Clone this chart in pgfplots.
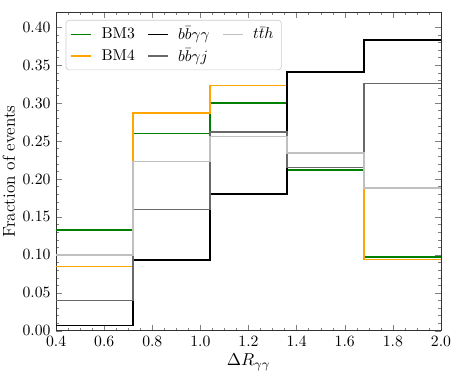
\documentclass[border=0pt]{standalone}
\usepackage{pgfplots}
\pgfplotsset{compat=1.18}
\definecolor{bmgreen}{HTML}{008000}
\definecolor{bmorange}{HTML}{FFA500}
\definecolor{dimgr}{HTML}{696969}
\definecolor{silv}{HTML}{C0C0C0}
\begin{document}
\begin{tikzpicture}
\begin{axis}[
  width=245pt, height=203pt,
  scale only axis,
  xmin=0.4, xmax=2.0,
  ymin=0, ymax=0.42,
  xtick={0.4,0.6,...,2.0},
  ytick={0,0.05,...,0.40},
  minor x tick num=3,
  minor y tick num=4,
  tick align=inside,
  major tick length=4pt, minor tick length=2pt,
  xtick pos=both, ytick pos=both,
  x tick label style={/pgf/number format/.cd,fixed,fixed zerofill,precision=1},
  y tick label style={/pgf/number format/.cd,fixed,fixed zerofill,precision=2},
  xlabel={$\Delta R_{\gamma\gamma}$},
  xlabel style={font=\fontsize{11}{13}\selectfont, yshift=2pt},
  ylabel={Fraction of events},
  ylabel style={font=\fontsize{11}{13}\selectfont, yshift=-2pt},
  axis line style={black!80},
  legend columns=3,
  legend style={at={(0.025,0.975)}, anchor=north west, draw=black!20, rounded corners=2pt,
    column sep=4pt, /tikz/every even column/.append style={column sep=6pt},
    row sep=0pt, font=\normalsize, inner xsep=3pt, inner ysep=2pt},
  legend image code/.code={\draw[#1, sharp plot] (0pt,0pt) -- (12.7pt,0pt);},
  legend cell align=left,
  const plot,
  every axis plot/.append style={line width=0.9pt},
]
\coordinate (bl) at (rel axis cs:0,0);
\coordinate (tr) at (rel axis cs:1,1);
\addlegendimage{bmgreen}
\addlegendentry{BM3}
\addlegendimage{black}
\addlegendentry{$b\bar{b}\gamma\gamma$}
\addlegendimage{silv}
\addlegendentry{$t\bar{t}h$}
\addlegendimage{bmorange}
\addlegendentry{BM4}
\addlegendimage{dimgr}
\addlegendentry{$b\bar{b}\gamma j$}

\addplot[bmgreen, forget plot] coordinates {
  (0.4,0.133) (0.72,0.260) (1.04,0.300) (1.36,0.212) (1.68,0.097) (2.0,0.097)
};
\addplot[bmorange, forget plot] coordinates {
  (0.4,0.085) (0.72,0.287) (1.04,0.323) (1.36,0.215) (1.68,0.094) (2.0,0.094)
};
\addplot[black, forget plot] coordinates {
  (0.4,0.007) (0.72,0.093) (1.04,0.180) (1.36,0.341) (1.68,0.383) (2.0,0.383)
};
\addplot[dimgr, forget plot] coordinates {
  (0.4,0.040) (0.72,0.160) (1.04,0.262) (1.36,0.215) (1.68,0.326) (2.0,0.326)
};
\addplot[silv, forget plot] coordinates {
  (0.4,0.100) (0.72,0.223) (1.04,0.256) (1.36,0.234) (1.68,0.188) (2.0,0.188)
};
\end{axis}
\pgfresetboundingbox
\path ([shift={(-35.7pt,-28.7pt)}]bl) rectangle ([shift={(11.5pt,7.6pt)}]tr);
\end{tikzpicture}
\end{document}
